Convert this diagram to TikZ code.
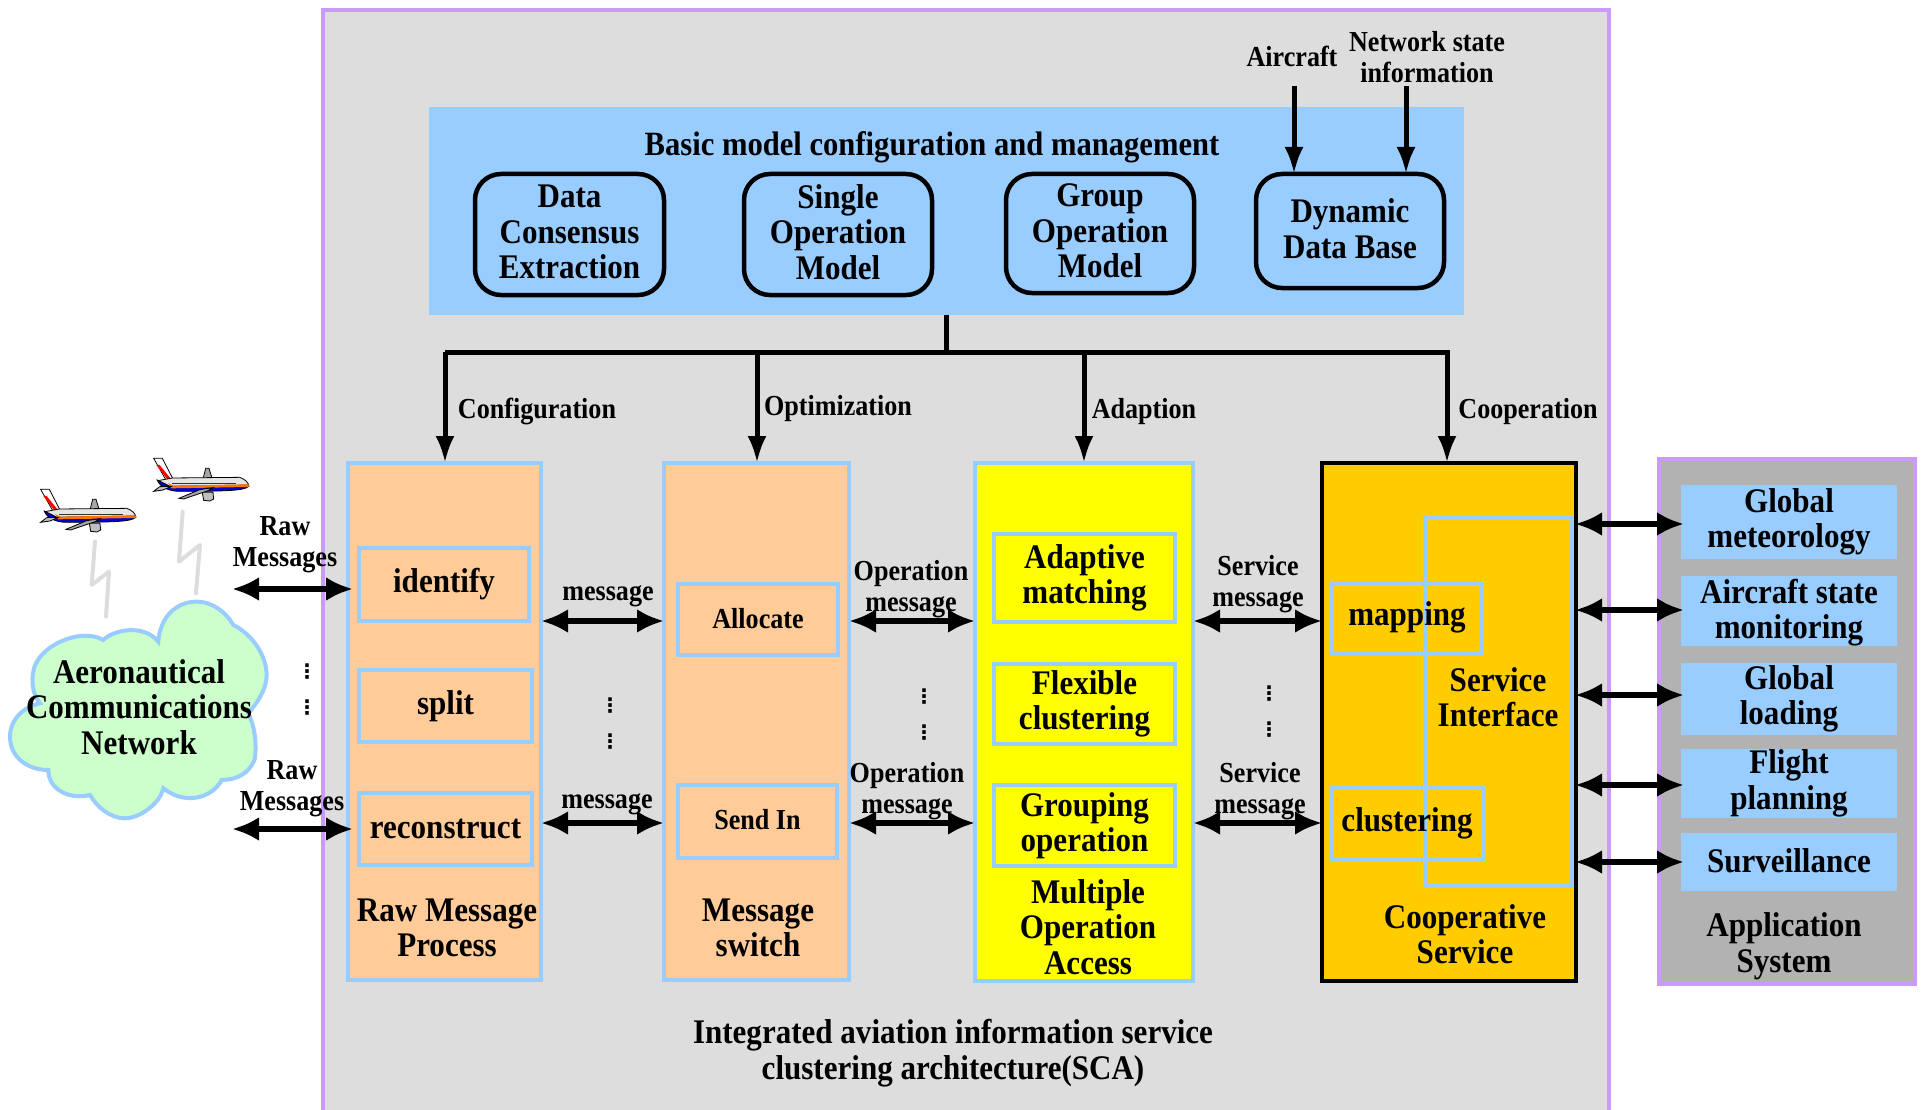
\documentclass[tikz,border=0pt]{standalone}
\usepackage{fontspec}
\setmainfont{Liberation Serif}[FakeStretch=0.9]
\newfontfamily\dotfont{DejaVu Sans}
\usetikzlibrary{arrows.meta,calc}
\definecolor{pur}{HTML}{CC99FF}
\definecolor{lblue}{HTML}{99CCFF}
\definecolor{peach}{HTML}{FFCC99}
\definecolor{gold}{HTML}{FFCC00}
\definecolor{mint}{HTML}{CCFFCC}
\definecolor{mgray}{HTML}{DDDDDD}
\definecolor{agray}{HTML}{B2B2B2}
\definecolor{yell}{HTML}{FFFF00}
\tikzset{
 base/.style={inner sep=0pt,outer sep=0pt,align=center,text=black},
 bigt/.style={base,font=\fontsize{34.5}{35.5}\selectfont\bfseries},
 midt/.style={base,font=\fontsize{34}{36}\selectfont\bfseries},
 smallt/.style={base,font=\fontsize{29}{31}\selectfont\bfseries},
 inbox/.style={base,draw=lblue,line width=4.5pt},
 dbl/.style={{Latex[length=27pt,width=24pt]}-{Latex[length=27pt,width=24pt]},line width=6pt,black},
 down/.style={-{Latex[length=27pt,width=19pt]},line width=5pt,black},
 rbox/.style={bigt,draw=black,line width=4.5pt,rounded corners=26pt},
 vdots/.style={base,font=\dotfont\bfseries\fontsize{20}{20}\selectfont},
}
\newcommand{\bx}[7]{%
 \pgfmathsetmacro{\cxx}{(#2+#4)/2}\pgfmathsetmacro{\cyy}{(#3+#5)/2}%
 \pgfmathsetmacro{\ww}{#4-#2}\pgfmathsetmacro{\hh}{#5-#3}%
 \node[#6,minimum width=\ww pt,minimum height=\hh pt] (#1) at (\cxx,\cyy) {#7};}
\newcommand{\plane}[2]{%
 \begin{scope}[shift={(#1,#2)},x=0.3333pt,y=-0.3333pt,line width=0.8pt]
 \fill[gray!70,draw=black] (270,240) -- (278,208) -- (288,208) -- (298,240) -- cycle;
 \fill[white,draw=black] (122,178) -- (148,178) -- (180,240) -- (160,245) -- cycle;
 \fill[red] (130,198) -- (140,198) -- (178,245) -- (168,248) -- cycle;
 \fill[gray!20,draw=black] (135,245) -- (178,237) -- (380,235) .. controls (395,240) and (405,250) .. (407,258) -- (170,262) -- cycle;
 \fill[blue!85!black,draw=black] (133,243) -- (170,262) -- (407,262) .. controls (395,275) and (340,277) .. (200,277) .. controls (170,277) and (140,265) .. (133,243) -- cycle;
 \fill[orange!90!red] (165,252) -- (180,260) -- (407,256) -- (407,264) -- (175,268) -- cycle;
 \draw[black!80,line width=1.5pt] (178,253) -- (370,253);
 \fill[gray!50,draw=black] (122,277) -- (140,263) -- (175,262) -- (150,273) -- cycle;
 \fill[gray!50,draw=black] (268,280) -- (300,280) -- (302,300) -- (290,306) -- (272,304) -- cycle;
 \fill[gray!70,draw=black] (198,298) -- (260,272) -- (300,266) -- (285,275) -- (212,300) -- cycle;
 \end{scope}}
\begin{document}
\begin{tikzpicture}[x=1pt,y=-1pt]
\useasboundingbox (0,0) rectangle (1921,1110);
\fill[white] (0,0) rectangle (1921,1110);
% main frame
\bx{main}{323}{10}{1609}{1114}{base,draw=pur,fill=mgray,line width=4.5pt}{}
\bx{panel}{429}{107}{1464}{315}{base,fill=lblue}{}
\node[midt] (paneltitle) at (932,147) {Basic model configuration and management};
\bx{dce}{475}{174}{664}{295}{rbox}{}
\bx{som}{744}{174}{932}{295}{rbox}{}
\bx{gom}{1006}{174}{1194}{293}{rbox}{}
\bx{ddb}{1256}{174}{1444}{288}{rbox}{}
\node[bigt] (dcet) at ($(dce)+(0,-2.5)$) {Data\\Consensus\\Extraction};
\node[bigt] (somt) at ($(som)+(0,-2.5)$) {Single\\Operation\\Model};
\node[bigt] (gomt) at ($(gom)+(0,-2.5)$) {Group\\Operation\\Model};
\node[bigt] (ddbt) at ($(ddb)+(0,-2.5)$) {Dynamic\\Data Base};
\node[smallt] (aircraft) at (1292,56) {Aircraft};
\node[smallt] (netstate) at (1427,57) {Network state\\information};
\coordinate (acs) at (1294,86);
\coordinate (nss) at (1406,86);
\draw[down] (acs) -- (acs |- ddb.north);
\draw[down] (nss) -- (nss |- ddb.north);
% big boxes
\bx{rawb}{348}{463}{541}{980}{inbox,fill=peach}{}
\bx{msgb}{664}{463}{849}{980}{inbox,fill=peach}{}
\bx{mula}{975}{463}{1193}{981}{inbox,fill=yell}{}
\bx{coop}{1322}{463}{1576}{981}{base,draw=black,fill=gold,line width=4.5pt}{}
% tree
\coordinate (hub) at (946,352);
\draw[line width=5pt,line cap=butt] (panel.south -| hub) -- (hub);
\draw[line width=5pt] (445,352) -- (1447,352);
\coordinate (t1) at (445,352);\coordinate (t2) at (757,352);\coordinate (t3) at (1084,352);\coordinate (t4) at (1447,350);
\draw[down] (t1) -- (t1 |- rawb.north);
\draw[down] (t2) -- (t2 |- msgb.north);
\draw[down] (t3) -- (t3 |- mula.north);
\draw[down] (t4) -- (t4 |- coop.north);
\node[smallt] (lconf) at (537,411) {Configuration};
\node[smallt] (lopt) at (838,409) {Optimization};
\node[smallt] (lada) at (1144,412) {Adaption};
\node[smallt] (lcoo) at (1528,412) {Cooperation};
% inner boxes
\bx{identify}{359}{548}{529}{621}{inbox,bigt}{identify}
\bx{split}{359}{670}{532}{742}{inbox,bigt}{split}
\bx{recon}{359}{793}{532}{865}{inbox,bigt}{\raisebox{1pt}{reconstruct}}
\node[bigt] (rawt) at (447,928) {Raw Message\\Process};
\bx{alloc}{678}{584}{838}{655}{inbox,smallt}{\raisebox{2.5pt}{Allocate}}
\bx{sendin}{678}{785}{837}{858}{inbox,smallt}{\raisebox{3.5pt}{Send In}}
\node[bigt] (msgt) at (758,928) {Message\\switch};
\bx{adapt}{994}{534}{1175}{622}{inbox,bigt}{Adaptive\\matching}
\bx{flex}{994}{664}{1175}{744}{inbox,bigt}{Flexible\\clustering}
\bx{group}{994}{785}{1175}{866}{inbox,bigt}{Grouping\\operation}
\node[bigt] (mult) at (1088,927) {Multiple\\Operation\\Access};
\bx{svc}{1425}{517}{1572}{885}{inbox}{}
\bx{mapb}{1331}{583}{1482}{654}{inbox}{}
\bx{club}{1331}{788}{1484}{860}{inbox}{}
\node[bigt] (mapt) at (1407,617) {mapping};
\node[bigt] (clut) at (1407,823) {clustering};
\node[bigt] (svct) at (1498,697) {Service\\Interface};
\node[bigt] (coopt) at (1465,934) {Cooperative\\Service};
% application
\bx{appl}{1659}{459}{1915}{984}{base,draw=pur,fill=agray,line width=4.5pt}{}
\bx{a1}{1681}{485}{1897}{559}{bigt,fill=lblue}{Global\\meteorology}
\bx{a2}{1681}{576}{1897}{646}{bigt,fill=lblue}{}
\node[bigt] (a2t) at ($(a2)+(0,1.5)$) {Aircraft state\\monitoring};
\bx{a3}{1681}{663}{1897}{735}{bigt,fill=lblue}{Global\\loading}
\bx{a4}{1681}{749}{1897}{818}{bigt,fill=lblue}{Flight\\planning}
\bx{a5}{1681}{833}{1897}{891}{bigt,fill=lblue}{\raisebox{2.5pt}{Surveillance}}
\node[bigt] (appt) at (1784,946) {Application\\System};
\coordinate (ar1) at (0,524);\coordinate (ar2) at (0,610);\coordinate (ar3) at (0,695);\coordinate (ar4) at (0,785);\coordinate (ar5) at (0,862);
\tikzset{tip3/.style={dbl,shorten >=-3pt,shorten <=-1pt}}
\draw[tip3] (coop.east |- ar1) -- (a1.west |- ar1);
\draw[tip3] (coop.east |- ar2) -- (a2.west |- ar2);
\draw[tip3] (coop.east |- ar3) -- (a3.west |- ar3);
\draw[tip3] (coop.east |- ar4) -- (a4.west |- ar4);
\draw[tip3] (coop.east |- ar5) -- (a5.west |- ar5);
% row arrows
\coordinate (r1) at (0,621);\coordinate (r2) at (0,823);
\draw[dbl] (rawb.east |- r1) -- (msgb.west |- r1);
\draw[dbl] (rawb.east |- r2) -- (msgb.west |- r2);
\draw[dbl] (msgb.east |- r1) -- (mula.west |- r1);
\draw[dbl] (msgb.east |- r2) -- (mula.west |- r2);
\draw[dbl] (mula.east |- r1) -- (coop.west |- r1);
\draw[dbl] (mula.east |- r2) -- (coop.west |- r2);
\node[smallt] (m1) at (608,596) {message};
\node[smallt] (m2) at (607,804) {message};
\node[smallt] (o1) at (911,589) {Operation\\message};
\node[smallt] (o2) at (907,791) {Operation\\message};
\node[smallt] (s1) at (1258,584) {Service\\message};
\node[smallt] (s2) at (1260,791) {Service\\message};
\node[vdots] (d1) at (610,706) {⋮};\node[vdots] (d2) at (610,742) {⋮};
\node[vdots] (d3) at (924,697) {⋮};\node[vdots] (d4) at (924,733) {⋮};
\node[vdots] (d5) at (1269,694) {⋮};\node[vdots] (d6) at (1269,730) {⋮};
\node[vdots] (d7) at (307,672) {⋮};\node[vdots] (d8) at (307,708) {⋮};
% cloud
\begin{scope}[shift={(0,430)},x=0.3333pt,y=-0.3333pt]
\draw[draw=lblue,fill=mint,line width=4pt]
 (475,635) .. controls (480,560) and (530,515) .. (590,515)
 .. controls (640,515) and (680,550) .. (700,585)
 .. controls (760,615) and (800,680) .. (800,735)
 .. controls (800,780) and (770,820) .. (745,850)
 .. controls (765,890) and (770,940) .. (765,985)
 .. controls (750,1030) and (710,1050) .. (665,1050)
 .. controls (640,1100) and (560,1130) .. (490,1075)
 .. controls (480,1120) and (420,1165) .. (375,1165)
 .. controls (330,1165) and (290,1130) .. (270,1095)
 .. controls (210,1110) and (145,1080) .. (145,1020)
 .. controls (80,1020) and (30,980) .. (30,920)
 .. controls (30,870) and (70,830) .. (120,820)
 .. controls (95,790) and (95,750) .. (100,725)
 .. controls (110,650) and (240,590) .. (310,630)
 .. controls (340,600) and (430,580) .. (475,635) -- cycle;
\draw[mgray,line width=4pt,line cap=round,line join=round] (285,335) -- (275,465) -- (327,425) -- (318,560);
\draw[mgray,line width=4pt,line cap=round,line join=round] (548,245) -- (537,395) -- (600,345) -- (588,490);
\end{scope}
\node[bigt] (acn) at (139,707) {Aeronautical\\Communications\\Network};
\plane{0}{430}
\plane{113}{399}
% raw message arrows
\coordinate (fr1) at (232,589);\coordinate (fr2) at (232,829);
\coordinate (to1) at (353,589);\coordinate (to2) at (353,829);
\draw[dbl] (fr1) -- (to1);
\draw[dbl] (fr2) -- (to2);
\node[smallt] (rm1) at (285,545) {Raw\\Messages};
\node[smallt] (rm2) at (292,789) {Raw\\Messages};
\node[bigt] (title) at (953,1053) {Integrated aviation information service\\clustering architecture(SCA)};
\end{tikzpicture}
\end{document}
